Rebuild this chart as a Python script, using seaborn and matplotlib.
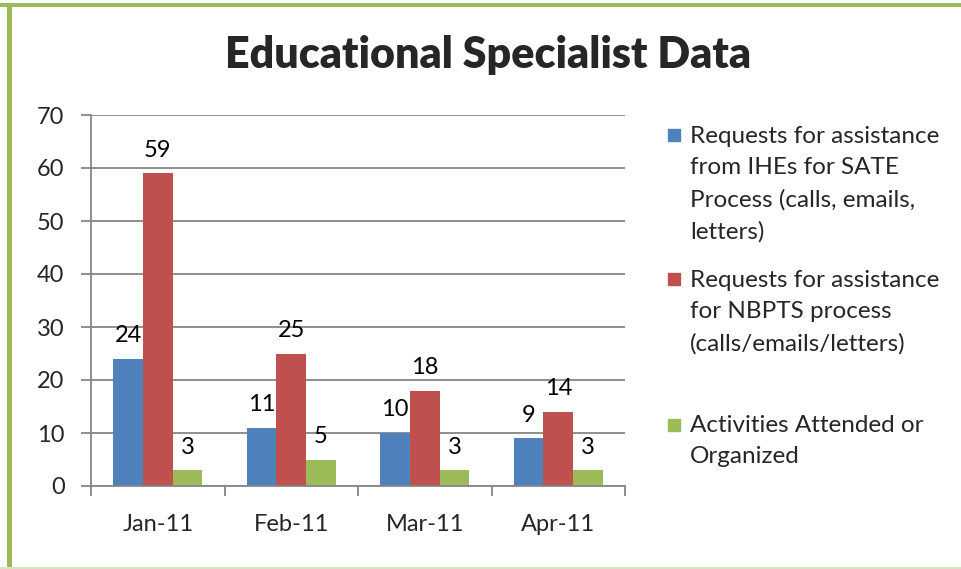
import matplotlib
matplotlib.use("Agg")
import matplotlib.pyplot as plt
from matplotlib.patches import Rectangle
import pandas as pd
import seaborn as sns

# chart data
months = ["Jan-11", "Feb-11", "Mar-11", "Apr-11"]
series_names = [
    "Requests for assistance\nfrom IHEs for SATE\nProcess (calls, emails,\nletters)",
    "Requests for assistance\nfor NBPTS process\n(calls/emails/letters)",
    "Activities Attended or\nOrganized",
]
ihe_requests = [24, 11, 10, 9]
nbpts_requests = [59, 25, 18, 14]
activities = [3, 5, 3, 3]
colors = ["#4F81BD", "#C0504D", "#9BBB59"]
y_ticks = [0, 10, 20, 30, 40, 50, 60, 70]

W, H = 961, 569

sns.set_style("white")
plt.rcParams['font.family'] = ['Lato', 'DejaVu Sans']

df = pd.DataFrame({
    "Month": months * 3,
    "Series": [series_names[0]] * 4 + [series_names[1]] * 4 + [series_names[2]] * 4,
    "Value": ihe_requests + nbpts_requests + activities,
})

fig = plt.figure(figsize=(W / 100, H / 100), dpi=100)
ax = fig.add_axes([91 / W, 1 - 486 / H, (625 - 91) / W, (486 - 115) / H])

sns.barplot(data=df, x="Month", y="Value", hue="Series", order=months,
            hue_order=series_names, palette=colors, width=0.666,
            saturation=1, legend=False, ax=ax, errorbar=None, linewidth=0)

for cont in ax.containers:
    ax.bar_label(cont, padding=9, fontsize=17, color="black")

ax.set_ylim(0, 70)
ax.set_xlim(-0.5, len(months) - 0.5)
ax.set_yticks(y_ticks)
ax.set_xlabel("")
ax.set_ylabel("")
ax.grid(axis="y", color="#868686", linewidth=1.3)
ax.set_axisbelow(True)
for side in ["top", "right"]:
    ax.spines[side].set_visible(False)
for side in ["left", "bottom"]:
    ax.spines[side].set_color("#868686")
    ax.spines[side].set_linewidth(1.3)
ax.tick_params(axis="y", which="major", length=7, width=1.3, color="#868686",
               direction="out", left=True, labelsize=17, pad=12)
ax.tick_params(axis="x", which="major", length=0, labelsize=17, pad=20)
ax.set_xticks([i - 0.5 for i in range(len(months) + 1)], minor=True)
ax.tick_params(axis="x", which="minor", length=7, width=1.3, color="#868686",
               direction="out", bottom=True)

# title
fig.text(488 / W, 1 - 55 / H, "Educational Specialist Data", ha="center",
         va="center", fontsize=31, fontweight="heavy")

# legend drawn by hand to keep the marker on the first line
pitch = 33
centers = [184, 312, 441]
for name, col, cy in zip(series_names, colors, centers):
    n = name.count("\n") + 1
    first = cy - (n - 1) / 2 * pitch
    fig.add_artist(Rectangle((668 / W, 1 - (first + 6) / H), 12 / W, 12 / H,
                             transform=fig.transFigure, color=col))
    fig.text(690 / W, 1 - cy / H, name, ha="left", va="center",
             fontsize=17.5, linespacing=1.6)

# green frame
fig.add_artist(Rectangle((0, 1 - 6.5 / H), 1, 3.5 / H, transform=fig.transFigure,
                         color="#9BBB59", lw=0))
fig.add_artist(Rectangle((7 / W, 0), 4.5 / W, 1 - 3 / H, transform=fig.transFigure,
                         color="#9BBB59", lw=0))
fig.add_artist(Rectangle((0, 0), 1, 2 / H, transform=fig.transFigure,
                         color="#D7E4BD", lw=0))

fig.savefig("out.png", dpi=100)
